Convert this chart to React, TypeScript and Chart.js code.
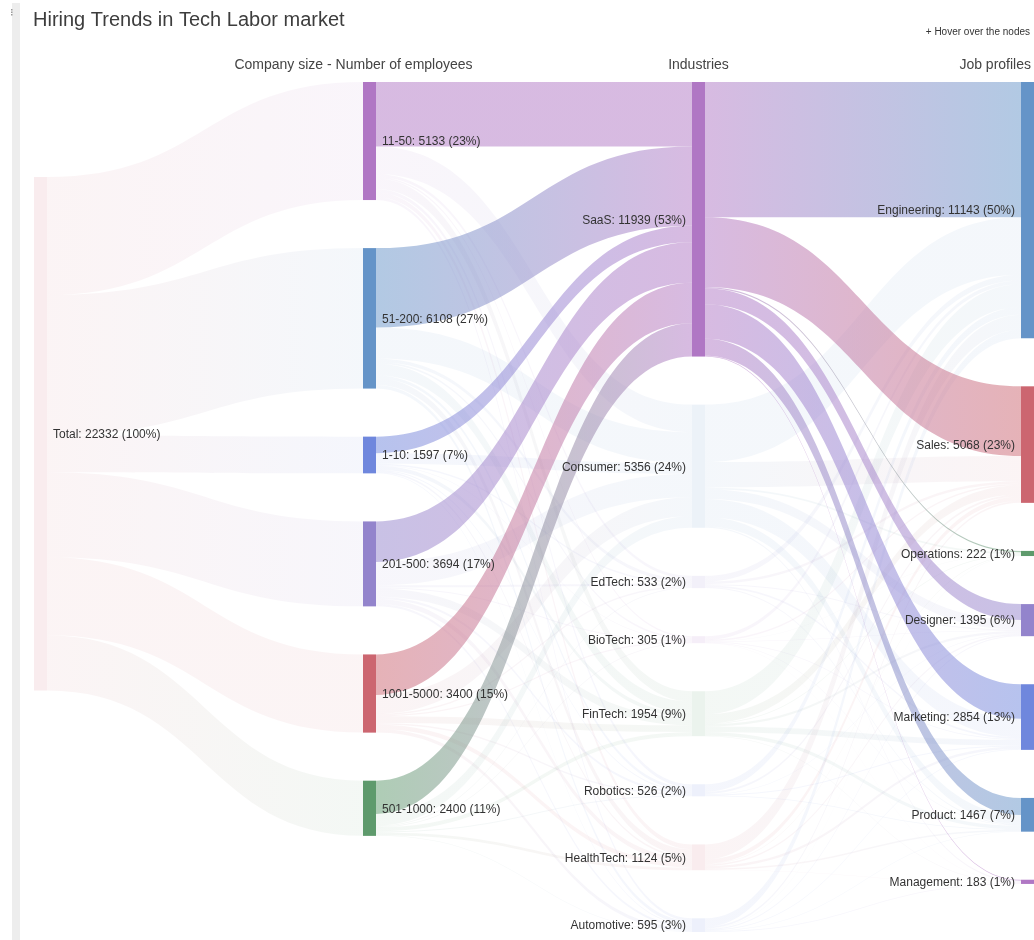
import React, { useEffect, useRef } from 'react';
import { Chart, registerables } from 'chart.js';

Chart.register(...registerables);

// ---------------- data ----------------
const TITLE = 'Hiring Trends in Tech Labor market';
const SUBTITLE = '+ Hover over the nodes';
const COLUMN_HEADERS = ['Company size - Number of employees', 'Industries', 'Job profiles'];
const ROOT_LABEL = 'Total';
const COMPANY_SIZES = ['11-50', '51-200', '1-10', '201-500', '1001-5000', '501-1000'];
const INDUSTRIES = ['SaaS', 'Consumer', 'EdTech', 'BioTech', 'FinTech', 'Robotics', 'HealthTech', 'Automotive'];
const JOB_PROFILES = ['Engineering', 'Sales', 'Operations', 'Designer', 'Marketing', 'Product', 'Management'];

// rows: company sizes, columns: industries
const COMPANY_TO_INDUSTRY: number[][] = [
  [2800, 1200, 130, 70, 450, 150, 213, 120],
  [3450, 1350, 150, 80, 500, 130, 298, 150],
  [720, 460, 60, 25, 180, 40, 72, 40],
  [1760, 1020, 90, 50, 360, 90, 224, 100],
  [1760, 820, 63, 50, 290, 66, 196, 155],
  [1449, 506, 40, 30, 174, 50, 121, 30],
];

// rows: industries, columns: job profiles
const INDUSTRY_TO_JOB: number[][] = [
  [5880, 3030, 60, 690, 1500, 740, 39],
  [2500, 1100, 80, 420, 800, 400, 56],
  [250, 110, 8, 40, 80, 40, 5],
  [160, 60, 5, 15, 35, 25, 5],
  [1000, 400, 30, 100, 250, 150, 24],
  [330, 90, 10, 20, 40, 30, 6],
  [650, 200, 15, 70, 110, 65, 14],
  [373, 78, 14, 40, 39, 17, 34],
];

const HOVERED_NODE = 'SaaS';

// ---------------- styles ----------------
const PURPLE = '#b077c4';
const BLUE = '#6594c8';
const INDIGO = '#6f87dd';
const LAVENDER = '#9384cc';
const RED = '#cc6670';
const GREEN = '#5e9a6c';

const NODE_COLORS: Record<string, string> = {
  Total: RED,
  '11-50': PURPLE,
  '51-200': BLUE,
  '1-10': INDIGO,
  '201-500': LAVENDER,
  '1001-5000': RED,
  '501-1000': GREEN,
  SaaS: PURPLE,
  Consumer: BLUE,
  EdTech: LAVENDER,
  BioTech: PURPLE,
  FinTech: GREEN,
  Robotics: INDIGO,
  HealthTech: RED,
  Automotive: INDIGO,
  Engineering: BLUE,
  Sales: RED,
  Operations: GREEN,
  Designer: LAVENDER,
  Marketing: INDIGO,
  Product: BLUE,
  Management: PURPLE,
};

const NODE_GAP = 2090; // in value units
const ROOT_OFFSET = 4130; // in value units
const NODE_WIDTH = 13;
const CURVE = 0.5;
const LINK_ALPHA_ACTIVE = 0.5;
const LINK_ALPHA_FADED = 0.07;
const NODE_ALPHA_FADED = 0.12;
const FONT = '"Liberation Sans", Arial, Helvetica, sans-serif';

function rgba(hex: string, a: number) {
  const h = hex.replace('#', '');
  const r = parseInt(h.slice(0, 2), 16);
  const g = parseInt(h.slice(2, 4), 16);
  const b = parseInt(h.slice(4, 6), 16);
  return `rgba(${r},${g},${b},${a})`;
}

type SNode = { name: string; col: number; value: number; top: number; outC: number; inC: number };
type SLink = { from: SNode; to: SNode; value: number };

function buildSankey() {
  const companyValues = COMPANY_TO_INDUSTRY.map((r) => r.reduce((a, b) => a + b, 0));
  const industryValues = INDUSTRIES.map((_, j) => COMPANY_TO_INDUSTRY.reduce((a, r) => a + r[j], 0));
  const jobValues = JOB_PROFILES.map((_, j) => INDUSTRY_TO_JOB.reduce((a, r) => a + r[j], 0));
  const total = companyValues.reduce((a, b) => a + b, 0);

  const mkCol = (names: string[], values: number[], col: number, offset: number) => {
    let cur = offset;
    return names.map((n, i) => {
      const node: SNode = { name: n, col, value: values[i], top: cur, outC: 0, inC: 0 };
      cur += values[i] + NODE_GAP;
      return node;
    });
  };
  const rootCol = mkCol([ROOT_LABEL], [total], 0, ROOT_OFFSET);
  const compCol = mkCol(COMPANY_SIZES, companyValues, 1, 0);
  const indCol = mkCol(INDUSTRIES, industryValues, 2, 0);
  const jobCol = mkCol(JOB_PROFILES, jobValues, 3, 0);

  const links: SLink[] = [];
  compCol.forEach((c, i) => links.push({ from: rootCol[0], to: c, value: companyValues[i] }));
  COMPANY_TO_INDUSTRY.forEach((row, i) =>
    row.forEach((v, j) => links.push({ from: compCol[i], to: indCol[j], value: v }))
  );
  INDUSTRY_TO_JOB.forEach((row, i) =>
    row.forEach((v, j) => links.push({ from: indCol[i], to: jobCol[j], value: v }))
  );
  const nodes = [...rootCol, ...compCol, ...indCol, ...jobCol];
  const maxY = Math.max(
    ...[compCol, indCol, jobCol].map((c) => c[c.length - 1].top + c[c.length - 1].value)
  );
  return { nodes, links, total, maxY };
}

const SANKEY = buildSankey();

const sankeyPlugin = {
  id: 'sankeyDraw',
  beforeDraw(chart: any) {
    const ctx: CanvasRenderingContext2D = chart.ctx;
    ctx.save();
    ctx.fillStyle = '#ffffff';
    ctx.fillRect(0, 0, chart.width, chart.height);
    ctx.fillStyle = '#ededed';
    ctx.fillRect(12, 3, 8, chart.height - 3);
    ctx.fillStyle = '#9a9a9a';
    for (let i = 0; i < 3; i++) ctx.fillRect(11, 9 + i * 2.5, 1.5, 1.5);
    ctx.restore();
  },
  afterDatasetsDraw(chart: any) {
    const ctx: CanvasRenderingContext2D = chart.ctx;
    const xs = chart.scales.x;
    const ys = chart.scales.y;
    const { nodes, links, total } = SANKEY;
    nodes.forEach((n) => {
      n.outC = 0;
      n.inC = 0;
    });
    const active = new Set<string>([HOVERED_NODE]);
    links.forEach((l) => {
      if (l.from.name === HOVERED_NODE) active.add(l.to.name);
      if (l.to.name === HOVERED_NODE) active.add(l.from.name);
    });

    const geo = links.map((l) => {
      const sy = l.from.top + l.from.outC;
      l.from.outC += l.value;
      const ty = l.to.top + l.to.inC;
      l.to.inC += l.value;
      return {
        l,
        x0: xs.getPixelForValue(l.from.col) + NODE_WIDTH,
        x1: xs.getPixelForValue(l.to.col),
        y0: ys.getPixelForValue(sy),
        y0b: ys.getPixelForValue(sy + l.value),
        y1: ys.getPixelForValue(ty),
        y1b: ys.getPixelForValue(ty + l.value),
        hi: l.from.name === HOVERED_NODE || l.to.name === HOVERED_NODE,
      };
    });

    ctx.save();
    const drawLink = (g: any) => {
      const a = g.hi ? LINK_ALPHA_ACTIVE : LINK_ALPHA_FADED;
      const grad = ctx.createLinearGradient(g.x0, 0, g.x1, 0);
      grad.addColorStop(0, rgba(NODE_COLORS[g.l.from.name], a));
      grad.addColorStop(1, rgba(NODE_COLORS[g.l.to.name], a));
      const c = (g.x1 - g.x0) * CURVE;
      ctx.beginPath();
      ctx.moveTo(g.x0, g.y0);
      ctx.bezierCurveTo(g.x0 + c, g.y0, g.x1 - c, g.y1, g.x1, g.y1);
      ctx.lineTo(g.x1, g.y1b);
      ctx.bezierCurveTo(g.x1 - c, g.y1b, g.x0 + c, g.y0b, g.x0, g.y0b);
      ctx.closePath();
      ctx.fillStyle = grad;
      ctx.fill();
    };
    geo.filter((g) => !g.hi).forEach(drawLink);
    geo.filter((g) => g.hi).forEach(drawLink);

    // nodes
    nodes.forEach((n) => {
      const x = xs.getPixelForValue(n.col);
      const yt = ys.getPixelForValue(n.top);
      const yb = ys.getPixelForValue(n.top + n.value);
      const on = active.has(n.name);
      ctx.fillStyle = on ? NODE_COLORS[n.name] : rgba(NODE_COLORS[n.name], NODE_ALPHA_FADED);
      ctx.fillRect(x, yt, NODE_WIDTH, Math.max(yb - yt, 1));
    });

    // node labels
    ctx.font = `12px ${FONT}`;
    ctx.fillStyle = '#333333';
    ctx.textBaseline = 'middle';
    nodes.forEach((n) => {
      const x = xs.getPixelForValue(n.col);
      const yt = ys.getPixelForValue(n.top);
      const yb = ys.getPixelForValue(n.top + n.value);
      const pct = Math.round((n.value / total) * 100);
      const txt = `${n.name}: ${n.value} (${pct}%)`;
      if (n.col <= 1) {
        ctx.textAlign = 'left';
        ctx.fillText(txt, x + NODE_WIDTH + 6, (yt + yb) / 2 + 1);
      } else {
        ctx.textAlign = 'right';
        ctx.fillText(txt, x - 6, (yt + yb) / 2 + 1);
      }
    });

    // title, subtitle, column headers
    ctx.textBaseline = 'alphabetic';
    ctx.textAlign = 'left';
    ctx.fillStyle = '#3d3d3d';
    ctx.font = `20px ${FONT}`;
    ctx.fillText(TITLE, 33, 26);
    ctx.font = `10px ${FONT}`;
    ctx.fillStyle = '#333333';
    ctx.textAlign = 'right';
    ctx.fillText(SUBTITLE, 1030, 35);
    ctx.font = `14px ${FONT}`;
    ctx.fillStyle = '#444444';
    ctx.textAlign = 'center';
    ctx.fillText(COLUMN_HEADERS[0], xs.getPixelForValue(1) + NODE_WIDTH / 2 - 16, 69);
    ctx.fillText(COLUMN_HEADERS[1], xs.getPixelForValue(2) + NODE_WIDTH / 2, 69);
    ctx.textAlign = 'right';
    ctx.fillText(COLUMN_HEADERS[2], 1031, 69);
    ctx.restore();
  },
};

export default function App() {
  const ref = useRef<HTMLCanvasElement | null>(null);
  useEffect(() => {
    if (!ref.current) return;
    const chart = new Chart(ref.current, {
      type: 'scatter',
      data: { datasets: [{ data: [], showLine: false }] },
      options: {
        responsive: false,
        animation: false,
        events: [],
        layout: { padding: { left: 34, right: 13, top: 82, bottom: 940 - 932 } },
        scales: {
          x: { type: 'linear', min: 0, max: 3, display: false },
          y: { type: 'linear', min: 0, max: SANKEY.maxY, reverse: true, display: false },
        },
        plugins: { legend: { display: false }, tooltip: { enabled: false }, title: { display: false } },
      },
      plugins: [sankeyPlugin],
    });
    return () => chart.destroy();
  }, []);
  return (
    <div style={{ position: 'absolute', left: 0, top: 0, width: 1034, height: 940, background: '#fff' }}>
      <canvas ref={ref} width={1034} height={940} style={{ width: 1034, height: 940, display: 'block' }} />
    </div>
  );
}
